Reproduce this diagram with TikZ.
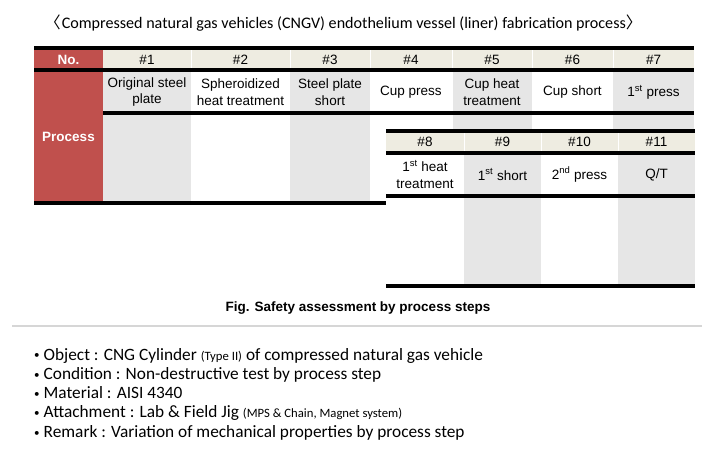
\documentclass[tikz,border=0pt]{standalone}
\usepackage{fontspec}
\setmainfont{Liberation Sans}
\newfontfamily\krfont{Carlito}
\newfontfamily\cjkfont{Noto Sans CJK KR}
\definecolor{hdrred}{HTML}{C0504D}
\definecolor{hdrbeige}{HTML}{EEECE1}
\definecolor{colgray}{HTML}{E6E6E6}
\definecolor{sepgray}{HTML}{D6D6D6}
\newcommand\smallpar[1]{{\fontsize{12.7}{14}\selectfont #1}}
\newcommand\bul{\raisebox{1.2pt}{\fontsize{11}{11}\selectfont •}\hspace{4pt}}
\begin{document}
\begin{tikzpicture}[x=1pt,y=-1pt,
  rule/.style={line width=3.3pt,black},
  hsep/.style={white,line width=1pt},
  cell/.style={font=\fontsize{13.5}{16.5}\selectfont,align=center,inner sep=0pt},
  redlbl/.style={font=\bfseries\fontsize{13.5}{16.5}\selectfont,text=white,inner sep=0pt},
  kr/.style={font=\krfont\fontsize{17.3}{19}\selectfont,anchor=base west,inner sep=0pt},
]
\useasboundingbox (0,0) rectangle (712,461);
\fill[white] (0,0) rectangle (712,461);
% ---- title
\node[kr,font=\krfont\fontsize{16.1}{18}\selectfont] (title) at (44.5,28)
  {{\cjkfont 〈}\hspace{1pt}Compressed natural gas vehicles (CNGV) endothelium vessel (liner) fabrication process{\cjkfont 〉}};
% ---- table 1 fills
\fill[hdrred] (34,48) rectangle (103,203);
\fill[hdrbeige] (103,48) rectangle (694,70);
\fill[colgray] (103,70) rectangle (191,203);
\fill[colgray] (290,70) rectangle (370,203);
\fill[colgray] (452.5,70) rectangle (532,131);
\fill[colgray] (613,70) rectangle (694,131);
\foreach \xx in {191,290,370,452.5,532,613} \draw[hsep] (\xx,49) -- (\xx,69);
% ---- table 2 fills
\fill[white] (386,131) rectangle (695,286);
\fill[hdrbeige] (386,131) rectangle (695,153);
\fill[colgray] (464,153) rectangle (541,286);
\fill[colgray] (618,153) rectangle (695,286);
\foreach \xx in {464,541,618} \draw[hsep] (\xx,132) -- (\xx,152);
% ---- rules
\draw[rule] (34,48) -- (694,48);
\draw[rule] (34,70) -- (694,70);
\draw[rule] (103,113) -- (694,113);
\draw[rule] (34,203) -- (386,203);
\draw[rule] (386,131) -- (695,131);
\draw[rule] (386,153) -- (695,153);
\draw[rule] (386,196) -- (695,196);
\draw[rule] (386,286) -- (695,286);
% ---- table 1 text
\node[redlbl] (no) at (68.5,59.5) {No.};
\node[redlbl] (process) at (68.5,137) {Process};
\node[cell] (h1) at (147,59.5) {\#1};
\node[cell] (h2) at (240.5,59.5) {\#2};
\node[cell] (h3) at (330,59.5) {\#3};
\node[cell] (h4) at (411,59.5) {\#4};
\node[cell] (h5) at (492,59.5) {\#5};
\node[cell] (h6) at (572.5,59.5) {\#6};
\node[cell] (h7) at (653.5,59.5) {\#7};
\node[cell] (p1) at (147,92) {Original steel\\plate};
\node[cell] (p2) at (240.5,92) {Spheroidized\\heat treatment};
\node[cell] (p3) at (330,92) {Steel plate\\short};
\node[cell] (p4) at (411,92) {Cup press};
\node[cell] (p5) at (492,92) {Cup heat\\treatment};
\node[cell] (p6) at (572.5,92) {Cup short};
\node[cell] (p7) at (653.5,92) {1\textsuperscript{st} press};
% ---- table 2 text
\node[cell] (h8) at (425,142) {\#8};
\node[cell] (h9) at (502.5,142) {\#9};
\node[cell] (h10) at (579.5,142) {\#10};
\node[cell] (h11) at (656.5,142) {\#11};
\node[cell] (p8) at (425,174.5) {1\textsuperscript{st} heat\\treatment};
\node[cell] (p9) at (502.5,174.5) {1\textsuperscript{st} short};
\node[cell] (p10) at (579.5,174.5) {2\textsuperscript{nd} press};
\node[cell] (p11) at (656.5,174.5) {Q/T};
% ---- caption and separator
\node[font=\bfseries\fontsize{13.5}{16}\selectfont,inner sep=0pt] (cap) at (358,308) {Fig. Safety assessment by process steps};
\coordinate (sepL) at (12,326);
\coordinate (sepR) at (702,326);
\draw[sepgray,line width=2pt] (sepL) -- (sepR);
% ---- bullet list
\node[kr] (b1) at (34,360) {\bul Object : CNG Cylinder \smallpar{(Type II)} of compressed natural gas vehicle};
\node[kr] (b2) at (34,379.3) {\bul Condition : Non-destructive test by process step};
\node[kr] (b3) at (34,398.6) {\bul Material : AISI 4340};
\node[kr] (b4) at (34,417.9) {\bul Attachment : Lab \& Field Jig \smallpar{(MPS \& Chain, Magnet system)}};
\node[kr] (b5) at (34,437.2) {\bul Remark : Variation of mechanical properties by process step};
\end{tikzpicture}
\end{document}
